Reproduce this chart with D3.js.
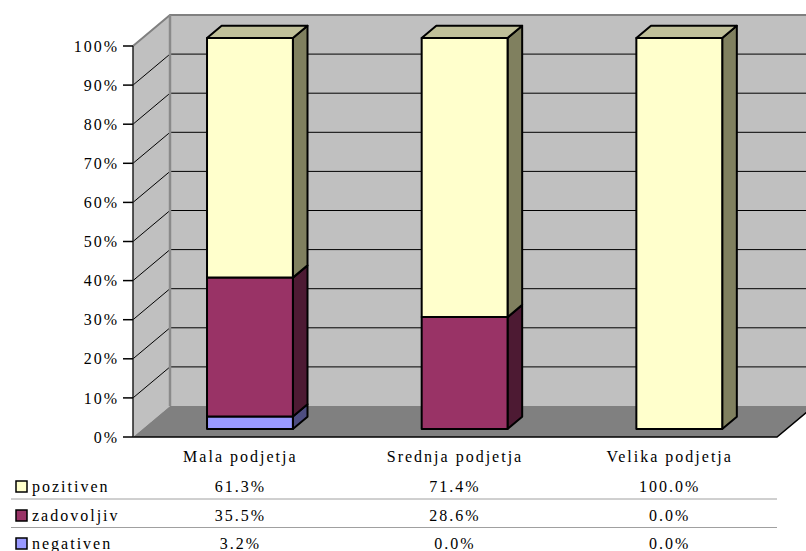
<!DOCTYPE html>
<html><head><meta charset="utf-8">
<script src="https://cdn.jsdelivr.net/npm/d3@7"></script>
<style>body{margin:0;background:#fff}svg{display:block}text{font-family:"Liberation Serif","Times New Roman",serif;font-size:16px;letter-spacing:2px;fill:#000}</style>
</head><body><svg id="c" width="806" height="551"></svg>
<script>
const categories = ["Mala podjetja", "Srednja podjetja", "Velika podjetja"];
const seriesNames = ["pozitiven", "zadovoljiv", "negativen"];
const pozitiven = [61.3, 71.4, 100.0];
const zadovoljiv = [35.5, 28.6, 0.0];
const negativen = [3.2, 0.0, 0.0];
const yTicks = [0, 10, 20, 30, 40, 50, 60, 70, 80, 90, 100];
const frontColors = ["#FFFFCC", "#993366", "#9999FF"];
const sideColors = ["#80805F", "#4D1A33", "#4D4D80"];
const topColors = ["#C0C099", "#C08099", "#B3B3FF"];

const svg = d3.select("#c");
const X0 = 133, X1 = 777, Y0 = 437, Y1 = 46;
const DX = 37, DY = -31; // full depth offset
const y = d3.scaleLinear().domain([0, 100]).range([Y0, Y1]);
const x = d3.scaleBand().domain(categories).range([X0, X1]).paddingInner(0.6).paddingOuter(0.3);
const xc = d3.scaleBand().domain(categories).range([X0, X1]);
const zf = 0.26, zb = 0.655;

const pts = a => a.map(p => p.join(",")).join(" ");
svg.append("polygon").attr("points", pts([[X0 + DX, y(0) + DY], [X1 + DX + 40, y(0) + DY], [X1 + DX + 40, y(100) + DY], [X0 + DX, y(100) + DY]])).attr("fill", "#C0C0C0");
svg.append("polygon").attr("points", pts([[X0, y(0)], [X0 + DX, y(0) + DY], [X0 + DX, y(100) + DY], [X0, y(100)]])).attr("fill", "#C0C0C0");
svg.append("polygon").attr("points", pts([[X0, y(0)], [X0 + DX, y(0) + DY], [X1 + DX, y(0) + DY], [X1, y(0)]])).attr("fill", "#808080");

yTicks.filter(t => t > 0 && t < 100).forEach(t => {
  svg.append("line").attr("x1", X0 + DX).attr("x2", 806).attr("y1", y(t) + DY).attr("y2", y(t) + DY).attr("stroke", "#000").attr("stroke-width", 1);
  svg.append("line").attr("x1", X0).attr("x2", X0 + DX).attr("y1", y(t)).attr("y2", y(t) + DY).attr("stroke", "#000").attr("stroke-width", 1);
});
svg.append("polyline").attr("points", pts([[X0, y(100)], [X0 + DX, y(100) + DY], [810, y(100) + DY]])).attr("fill", "none").attr("stroke", "#808080").attr("stroke-width", 2);
svg.append("line").attr("x1", X0 + DX).attr("x2", X0 + DX).attr("y1", y(100) + DY).attr("y2", y(0) + DY).attr("stroke", "#8a8a8a").attr("stroke-width", 2.5);
svg.append("polyline").attr("points", pts([[X0, y(0)], [X1, y(0)], [X1 + DX, y(0) + DY]])).attr("fill", "none").attr("stroke", "#000").attr("stroke-width", 1.5);

svg.append("line").attr("x1", X0).attr("x2", X0).attr("y1", y(0)).attr("y2", y(100)).attr("stroke", "#222").attr("stroke-width", 1.5);
yTicks.forEach(t => {
  svg.append("line").attr("x1", X0 - 10).attr("x2", X0).attr("y1", y(t)).attr("y2", y(t)).attr("stroke", "#000").attr("stroke-width", 1.5);
  svg.append("text").attr("x", X0 - 14).attr("y", y(t)).attr("dy", "0.35em").attr("text-anchor", "end").text(t + "%");
});

const series = [negativen, zadovoljiv, pozitiven];
const colorIdx = [2, 1, 0];
categories.forEach((c, i) => {
  let base = 0;
  const segs = [];
  series.forEach((s, k) => { if (s[i] > 0) { segs.push({ b: base, t: base + s[i], ci: colorIdx[k] }); base += s[i]; } });
  const fx = x(c) + zf * DX, fdy = zf * DY;
  const w = x.bandwidth();
  const ddx = (zb - zf) * DX, ddy = (zb - zf) * DY;
  segs.forEach((sg, j) => {
    const yb = y(sg.b) + fdy, yt = y(sg.t) + fdy;
    const g = svg.append("g").attr("stroke", "#000").attr("stroke-width", 2).attr("stroke-linejoin", "round");
    g.append("polygon").attr("points", pts([[fx + w, yb], [fx + w + ddx, yb + ddy], [fx + w + ddx, yt + ddy], [fx + w, yt]])).attr("fill", sideColors[sg.ci]);
    if (j === segs.length - 1) {
      g.append("polygon").attr("points", pts([[fx, yt], [fx + ddx, yt + ddy], [fx + w + ddx, yt + ddy], [fx + w, yt]])).attr("fill", topColors[sg.ci]);
    }
    g.append("rect").attr("x", fx).attr("y", yt).attr("width", w).attr("height", yb - yt).attr("fill", frontColors[sg.ci]);
  });
  svg.append("text").attr("x", xc(c) + xc.bandwidth() / 2).attr("y", 462).attr("text-anchor", "middle").text(c);
});

const rows = [pozitiven, zadovoljiv, negativen];
const rowY = [492, 521, 549];
rows.forEach((r, k) => {
  svg.append("rect").attr("x", 16).attr("y", rowY[k] - 11).attr("width", 11).attr("height", 11).attr("fill", frontColors[k]).attr("stroke", "#000").attr("stroke-width", 1.5);
  svg.append("text").attr("x", 32).attr("y", rowY[k]).text(seriesNames[k]);
  categories.forEach((c, i) => {
    svg.append("text").attr("x", xc(c) + xc.bandwidth() / 2).attr("y", rowY[k]).attr("text-anchor", "middle").text(r[i].toFixed(1) + "%");
  });
});
[499, 527.5].forEach(ly => svg.append("line").attr("x1", 11).attr("x2", X1).attr("y1", ly).attr("y2", ly).attr("stroke", "#A0A0A0").attr("stroke-width", 1));
</script></body></html>
